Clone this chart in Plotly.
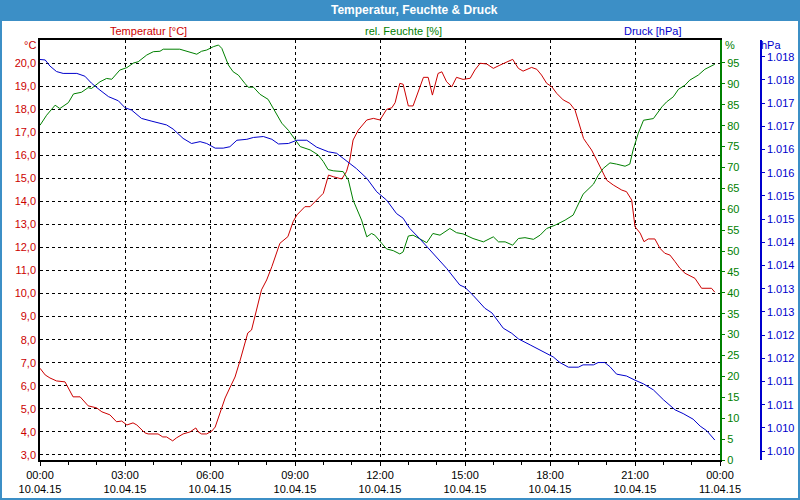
import math
import pandas as pd
import plotly.graph_objects as go

# ---------------- data (minutes after 10.04.15 00:00) ----------------
temp_min = [0, 11, 21, 35, 53, 70, 85, 102, 120, 131, 148, 162, 173, 184, 197, 205, 222, 229, 250, 260,
            268, 281, 289, 303, 318, 330, 335, 342, 353, 364, 371, 381, 392, 402, 413, 424, 434, 440, 448, 455,
            469, 480, 491, 508, 525, 536, 544, 561, 572, 600, 611, 621, 639, 649, 656, 663, 674, 692, 706, 720,
            734, 745, 752, 762, 769, 780, 790, 812, 822, 831, 843, 851, 861, 872, 882, 896, 911, 921, 932, 946,
            960, 974, 988, 1001, 1013, 1023, 1041, 1052, 1062, 1073, 1084, 1094, 1108, 1122, 1133, 1144, 1151,
            1158, 1168, 1179, 1190, 1200, 1214, 1232, 1242, 1253, 1260, 1271, 1279, 1288, 1302, 1313, 1323,
            1334, 1345, 1355, 1366, 1376, 1387, 1401, 1422, 1429]
temp_val = [6.76, 6.47, 6.34, 6.21, 6.17, 5.52, 5.52, 5.13, 5.04, 4.87, 4.74, 4.44, 4.47, 4.30, 4.39, 4.30,
            3.96, 3.91, 3.91, 3.78, 3.78, 3.61, 3.74, 3.91, 4.00, 4.17, 4.00, 3.91, 3.91, 4.04, 4.21, 4.82,
            5.47, 5.91, 6.38, 7.12, 7.90, 8.29, 8.42, 9.00, 10.16, 10.59, 11.17, 12.18, 12.47, 13.12, 13.41,
            13.77, 13.77, 14.35, 15.14, 15.07, 14.97, 15.29, 15.79, 16.66, 17.09, 17.53, 17.60, 17.53, 17.99,
            18.06, 18.28, 19.12, 19.08, 18.14, 18.14, 19.38, 19.38, 18.61, 19.55, 19.62, 19.19, 18.97, 19.38,
            19.29, 19.34, 19.70, 19.99, 19.96, 19.77, 19.91, 20.03, 20.16, 19.77, 19.65, 19.81, 19.73, 19.48,
            19.12, 18.97, 18.69, 18.40, 18.25, 17.96, 17.24, 16.73, 16.52, 16.23, 15.79, 15.36, 14.92, 14.71,
            14.49, 14.42, 14.06, 12.90, 12.62, 12.25, 12.37, 12.37, 11.96, 11.75, 11.67, 11.38, 11.10, 10.88,
            10.78, 10.66, 10.23, 10.23, 10.06]

hum_min = [0, 14, 32, 42, 60, 71, 88, 102, 109, 127, 141, 152, 169, 184, 198, 208, 226, 240, 254, 261,
           296, 314, 332, 342, 353, 367, 378, 385, 399, 409, 420, 434, 441, 452, 466, 483, 498, 512, 526, 540,
           551, 572, 589, 600, 610, 621, 642, 653, 663, 681, 692, 702, 709, 724, 734, 748, 762, 769, 780, 790,
           805, 819, 832, 847, 868, 882, 896, 917, 939, 960, 971, 985, 1001, 1013, 1027, 1045, 1059, 1073,
           1091, 1112, 1129, 1140, 1150, 1172, 1182, 1193, 1207, 1221, 1239, 1249, 1256, 1267, 1278, 1299,
           1317, 1327, 1341, 1352, 1366, 1376, 1394, 1408, 1429]
hum_val = [80.1, 82.5, 84.9, 84.1, 85.5, 87.6, 88.0, 89.1, 88.9, 90.5, 91.3, 91.1, 93.3, 93.9, 95.0, 95.3,
           96.9, 97.7, 97.8, 98.3, 98.3, 97.7, 97.1, 97.8, 98.1, 98.9, 99.3, 98.5, 94.5, 92.9, 92.1, 90.1,
           89.2, 89.2, 87.5, 86.3, 83.3, 80.6, 78.9, 76.6, 75.0, 74.2, 73.0, 71.4, 69.5, 69.2, 69.0, 67.0,
           62.2, 57.4, 53.4, 54.2, 53.8, 51.8, 50.5, 50.1, 49.3, 49.8, 53.6, 53.8, 52.8, 52.0, 54.2, 53.8,
           55.4, 54.4, 54.1, 53.0, 52.2, 53.4, 52.2, 52.2, 51.4, 53.0, 53.2, 52.8, 53.8, 55.4, 56.2, 57.4,
           58.6, 61.4, 63.6, 66.0, 68.1, 69.8, 71.1, 70.8, 70.3, 70.8, 74.2, 78.2, 81.3, 81.7, 84.5, 85.7,
           86.9, 88.7, 89.7, 90.9, 92.1, 93.5, 94.7]

pres_min = [0, 11, 21, 35, 49, 78, 95, 109, 127, 145, 166, 180, 194, 215, 237, 254, 268, 282, 303, 321,
            339, 353, 371, 388, 402, 417, 438, 452, 473, 491, 505, 526, 544, 565, 586, 611, 628, 642, 656, 670,
            692, 713, 734, 755, 769, 783, 804, 826, 840, 861, 889, 900, 917, 942, 957, 971, 981, 999, 1013,
            1038, 1059, 1069, 1087, 1101, 1119, 1140, 1150, 1172, 1182, 1196, 1207, 1221, 1242, 1260, 1278,
            1299, 1320, 1345, 1362, 1383, 1398, 1412, 1429]
pres_val = [1017.94, 1017.93, 1017.80, 1017.68, 1017.64, 1017.64, 1017.58, 1017.43, 1017.28, 1017.14,
            1017.05, 1016.90, 1016.85, 1016.67, 1016.61, 1016.56, 1016.53, 1016.44, 1016.24, 1016.13,
            1016.17, 1016.13, 1016.03, 1016.03, 1016.06, 1016.20, 1016.22, 1016.26, 1016.28, 1016.22,
            1016.12, 1016.13, 1016.20, 1016.20, 1016.05, 1015.95, 1015.92, 1015.81, 1015.69, 1015.59,
            1015.38, 1015.09, 1014.91, 1014.62, 1014.52, 1014.30, 1014.08, 1013.83, 1013.69, 1013.44,
            1013.08, 1013.03, 1012.86, 1012.58, 1012.48, 1012.29, 1012.15, 1012.04, 1011.92, 1011.79,
            1011.68, 1011.61, 1011.53, 1011.41, 1011.31, 1011.31, 1011.36, 1011.36, 1011.41, 1011.41,
            1011.32, 1011.16, 1011.12, 1011.03, 1010.95, 1010.82, 1010.61, 1010.39, 1010.31, 1010.19,
            1010.04, 1009.94, 1009.74]

temp_ticks = list(range(3, 21))
hum_ticks = list(range(0, 100, 5))
pres_ticks = [1009.5 + 0.5 * i for i in range(18)]
pres_labels = ["{:.3f}".format(math.floor(v + 0.5) / 1000) for v in pres_ticks]

title_text = "Temperatur, Feuchte &amp; Druck"
series_names = ["Temperatur [°C]", "rel. Feuchte [%]", "Druck [hPa]"]

# ---------------- styling ----------------
RED = "#cc0000"
GREEN = "#008000"
BLUE = "#0000cc"
FRAME = "#3c8fc6"
FONT = "Liberation Sans"

start = pd.Timestamp("2015-04-10 00:00")
end = pd.Timestamp("2015-04-11 00:00")


def times(mins):
    return [start + pd.Timedelta(minutes=m) for m in mins]


# pixel -> paper conversion (plot area x 40..761 (paper), y 40..460)
L, R, T, B = 40, 39, 40, 40
PW = 800 - L - R
PH = 500 - T - B


def px(x):
    return (x - L) / PW


def py(y):
    return (500 - B - y) / PH


fig = go.Figure()
fig.add_trace(go.Scatter(x=times(temp_min), y=temp_val, mode="lines", name=series_names[0],
                         line=dict(color=RED, width=1), yaxis="y", hoverinfo="skip"))
fig.add_trace(go.Scatter(x=times(hum_min), y=hum_val, mode="lines", name=series_names[1],
                         line=dict(color=GREEN, width=1), yaxis="y2", hoverinfo="skip"))
fig.add_trace(go.Scatter(x=times(pres_min), y=pres_val, mode="lines", name=series_names[2],
                         line=dict(color=BLUE, width=1), yaxis="y3", hoverinfo="skip"))

grid_dash = "3px,3px"

fig.update_layout(
    template="none",
    width=800, height=500,
    margin=dict(l=L, r=R, t=T, b=B, pad=0),
    paper_bgcolor="white", plot_bgcolor="white",
    showlegend=False,
    separators=",.",
    font=dict(family=FONT, size=11, color="black"),
    xaxis=dict(
        domain=[0, px(720)], type="date", range=[start, end],
        tick0=start, dtick=3 * 3600000, tickformat="%H:%M<br>%d.%m.%y",
        ticks="outside", ticklen=4, tickcolor="black", tickwidth=1,
        minor=dict(dtick=3600000, tick0=start, ticks="outside", ticklen=3, tickcolor="black",
                   showgrid=False),
        showgrid=True, gridcolor="black", gridwidth=1, griddash=grid_dash,
        showline=True, linecolor="black", linewidth=1.5, mirror=True,
        zeroline=False, automargin=False,
        tickfont=dict(family=FONT, size=11, color="black"),
    ),
    yaxis=dict(
        range=[2.78, 21.0], tickvals=temp_ticks, tickformat=".1f",
        ticks="", showgrid=True, gridcolor="black", gridwidth=1, griddash=grid_dash,
        showline=True, linecolor="black", linewidth=1.5, zeroline=False, automargin=False,
        tickfont=dict(family=FONT, size=11, color=RED),
    ),
    yaxis2=dict(
        overlaying="y", side="right", anchor="x",
        range=[0, 100.5], tickvals=hum_ticks,
        ticks="outside", ticklen=3, tickcolor=GREEN,
        showgrid=False, zeroline=False, showline=True, linecolor=GREEN, linewidth=2,
        automargin=False, tickfont=dict(family=FONT, size=11, color=GREEN),
    ),
    yaxis3=dict(
        overlaying="y", side="right", anchor="free", position=1.0,
        range=[1009.31, 1018.36], tickvals=pres_ticks, ticktext=pres_labels,
        ticks="outside", ticklen=3, tickcolor=BLUE,
        showgrid=False, zeroline=False, showline=True, linecolor=BLUE, linewidth=1.5,
        automargin=False, tickfont=dict(family=FONT, size=11, color=BLUE),
    ),
)

# frame + title bar
shapes = [
    dict(type="rect", xref="paper", yref="paper", x0=px(0), x1=px(800), y0=py(21), y1=py(0),
         fillcolor=FRAME, line=dict(width=0), layer="above"),
    dict(type="rect", xref="paper", yref="paper", x0=px(0), x1=px(2), y0=py(500), y1=py(0),
         fillcolor=FRAME, line=dict(width=0), layer="above"),
    dict(type="rect", xref="paper", yref="paper", x0=px(798), x1=px(800), y0=py(500), y1=py(0),
         fillcolor=FRAME, line=dict(width=0), layer="above"),
    dict(type="rect", xref="paper", yref="paper", x0=px(0), x1=px(800), y0=py(500), y1=py(498),
         fillcolor=FRAME, line=dict(width=0), layer="above"),
]
fig.update_layout(shapes=shapes)

ann = [
    dict(text="<b>" + title_text + "</b>", x=px(414), y=py(10), xanchor="center", yanchor="middle",
         font=dict(family=FONT, size=12, color="white")),
    dict(text=series_names[0], x=px(148), y=py(31), xanchor="center", yanchor="middle",
         font=dict(family=FONT, size=11, color=RED)),
    dict(text=series_names[1], x=px(403), y=py(31), xanchor="center", yanchor="middle",
         font=dict(family=FONT, size=11, color=GREEN)),
    dict(text=series_names[2], x=px(652), y=py(31), xanchor="center", yanchor="middle",
         font=dict(family=FONT, size=11, color=BLUE)),
    dict(text="°C", x=px(37), y=py(45), xanchor="right", yanchor="middle",
         font=dict(family=FONT, size=11, color=RED)),
    dict(text="%", x=px(724), y=py(45), xanchor="left", yanchor="middle",
         font=dict(family=FONT, size=11, color=GREEN)),
    dict(text="hPa", x=px(760), y=py(45), xanchor="left", yanchor="middle",
         font=dict(family=FONT, size=11, color=BLUE)),
]
for a in ann:
    a.update(xref="paper", yref="paper", showarrow=False, borderpad=0)
fig.update_layout(annotations=ann)

fig.write_html("out.html")
